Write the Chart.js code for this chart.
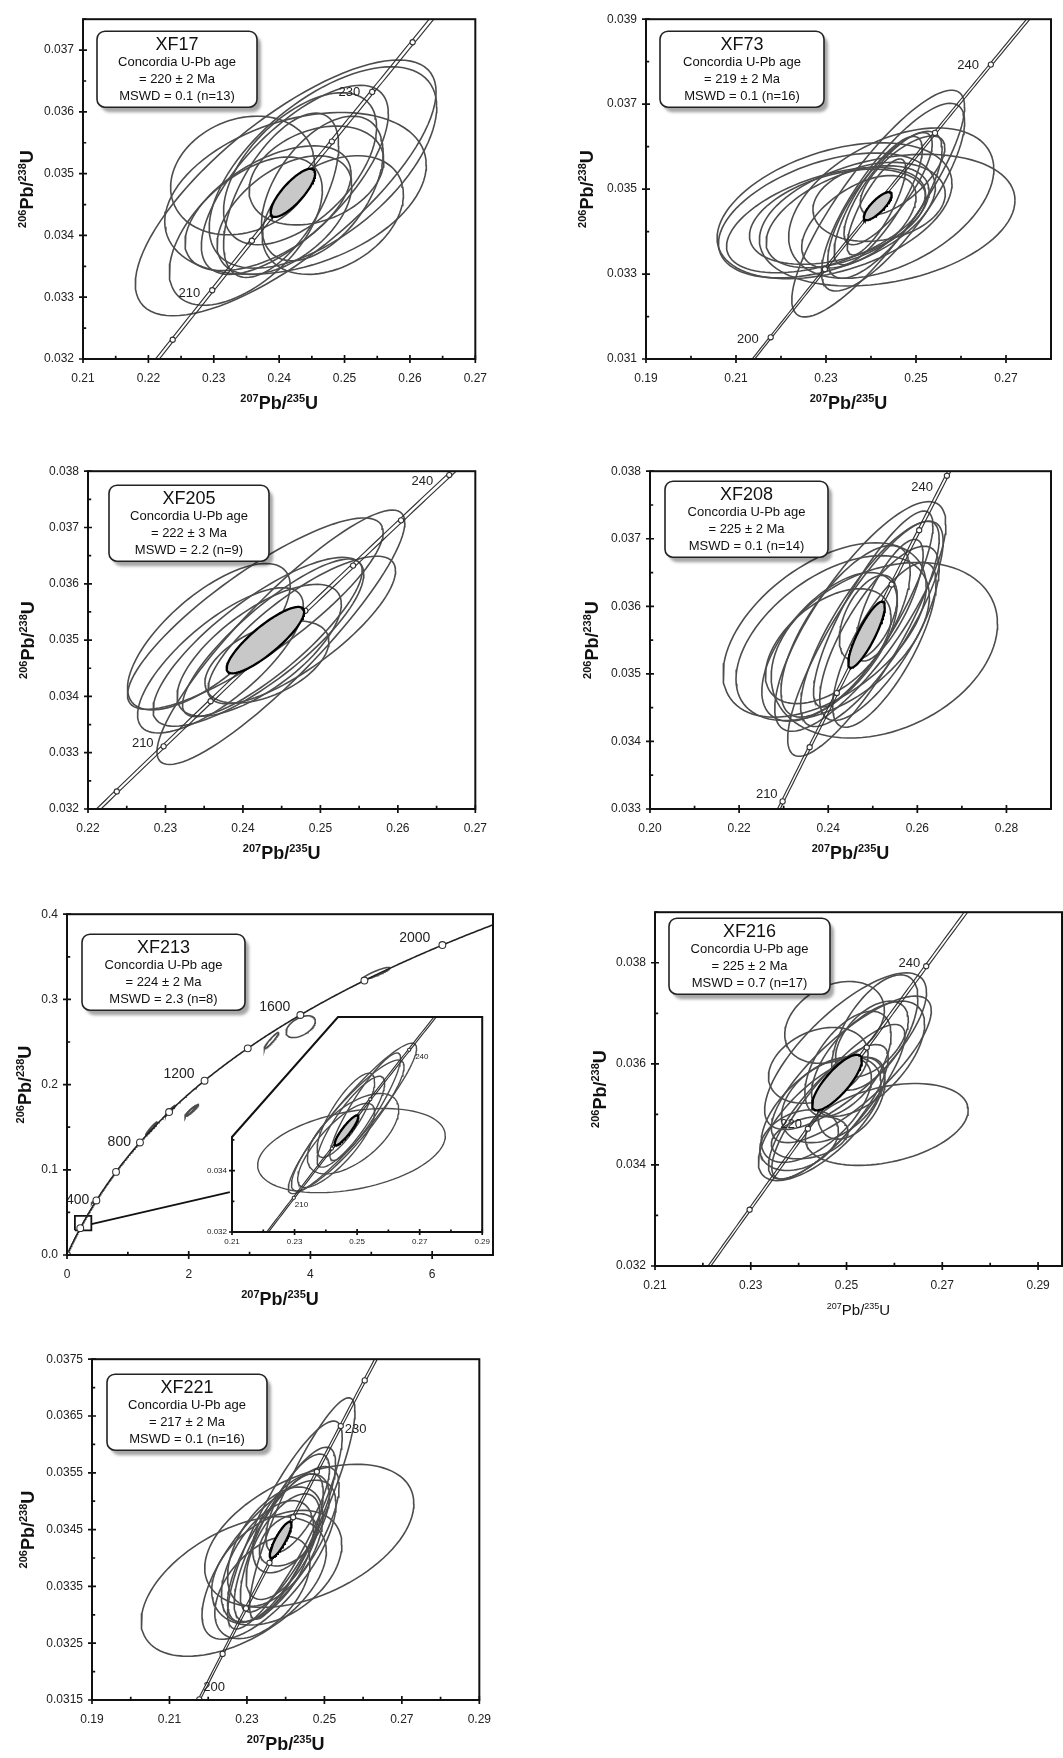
<!DOCTYPE html>
<html>
<head>
<meta charset="utf-8">
<script src="https://cdn.jsdelivr.net/npm/chart.js@4.4.1/dist/chart.umd.min.js"></script>
<style>
  html, body { margin: 0; padding: 0; background: #fff; }
  #page { position: relative; width: 1063px; height: 1758px; overflow: hidden; background: #fff; }
  #page canvas { position: absolute; }
</style>
</head>
<body>
<div id="page"></div>
<script>
// decay constants (1/yr) used for the concordia curve
const L238 = 1.55125e-10;
const L235 = 9.8485e-10;
const L235_BAND = 1.2e-12; // half-width of the concordia band

// ellipses: [207Pb/235U centre, 206Pb/238U centre, half-width x, half-height y, rho]

// ---- XF17
const XF17_TEXT = ['XF17', 'Concordia U-Pb age', '= 220 ± 2 Ma', 'MSWD = 0.1 (n=13)'];
const XF17_X_LABELS = [0.21, 0.22, 0.23, 0.24, 0.25, 0.26, 0.27];
const XF17_Y_LABELS = [0.032, 0.033, 0.034, 0.035, 0.036, 0.037];
const XF17_CURVE_AGES = [190, 250];
const XF17_MARKER_AGES = [205, 210, 215, 220, 225, 230, 235];
const XF17_LABEL_AGES = [210, 230];
const XF17_AGE_ELLIPSE = [0.2421, 0.03469, 0.0034, 0.00039, 0.80];
const XF17_ELLIPSES = [
  [0.2410, 0.03477, 0.0230, 0.00207, 0.75],
  [0.2425, 0.03468, 0.0200, 0.00131, 0.35],
  [0.2467, 0.03510, 0.0174, 0.00163, 0.60],
  [0.2424, 0.03490, 0.0143, 0.00153, 0.70],
  [0.2349, 0.03407, 0.0117, 0.00120, 0.55],
  [0.2344, 0.03497, 0.0110, 0.00096, 0.20],
  [0.2403, 0.03465, 0.0088, 0.00133, 0.60],
  [0.2466, 0.03476, 0.0093, 0.00117, 0.50],
  [0.2457, 0.03497, 0.0103, 0.00080, 0.30],
  [0.2408, 0.03433, 0.0103, 0.00096, 0.50],
  [0.2383, 0.03444, 0.0127, 0.00101, 0.55],
  [0.2432, 0.03508, 0.0117, 0.00123, 0.55],
  [0.2482, 0.03433, 0.0108, 0.00096, 0.35]
];

// ---- XF73
const XF73_TEXT = ['XF73', 'Concordia U-Pb age', '= 219 ± 2 Ma', 'MSWD = 0.1 (n=16)'];
const XF73_X_LABELS = [0.19, 0.21, 0.23, 0.25, 0.27];
const XF73_Y_LABELS = [0.031, 0.033, 0.035, 0.037, 0.039];
const XF73_CURVE_AGES = [190, 255];
const XF73_MARKER_AGES = [200, 210, 220, 230, 240];
const XF73_LABEL_AGES = [200, 240];
const XF73_AGE_ELLIPSE = [0.2415, 0.03460, 0.0031, 0.00033, 0.80];
const XF73_ELLIPSES = [
  [0.2319, 0.03449, 0.0261, 0.00160, 0.40],
  [0.2302, 0.03438, 0.0241, 0.00147, 0.45],
  [0.2300, 0.03427, 0.0221, 0.00124, 0.50],
  [0.2326, 0.03435, 0.0196, 0.00112, 0.40],
  [0.2436, 0.03427, 0.0284, 0.00155, 0.30],
  [0.2445, 0.03467, 0.0228, 0.00177, 0.45],
  [0.2416, 0.03466, 0.0192, 0.00267, 0.85],
  [0.2449, 0.03481, 0.0159, 0.00221, 0.80],
  [0.2418, 0.03470, 0.0147, 0.00093, 0.20],
  [0.2431, 0.03463, 0.0127, 0.00173, 0.75],
  [0.2416, 0.03473, 0.0098, 0.00151, 0.80],
  [0.2438, 0.03501, 0.0098, 0.00132, 0.80],
  [0.2373, 0.03423, 0.0127, 0.00109, 0.55],
  [0.2412, 0.03458, 0.0065, 0.00113, 0.80],
  [0.2348, 0.03435, 0.0181, 0.00120, 0.50],
  [0.2470, 0.03532, 0.0094, 0.00093, 0.70]
];

// ---- XF205
const XF205_TEXT = ['XF205', 'Concordia U-Pb age', '= 222 ± 3 Ma', 'MSWD = 2.2 (n=9)'];
const XF205_X_LABELS = [0.22, 0.23, 0.24, 0.25, 0.26, 0.27];
const XF205_Y_LABELS = [0.032, 0.033, 0.034, 0.035, 0.036, 0.037, 0.038];
const XF205_CURVE_AGES = [190, 250];
const XF205_MARKER_AGES = [205, 210, 215, 220, 225, 230, 235, 240];
const XF205_LABEL_AGES = [210, 240];
const XF205_AGE_ELLIPSE = [0.2429, 0.03500, 0.0050, 0.00059, 0.85];
const XF205_ELLIPSES = [
  [0.2416, 0.03547, 0.0165, 0.00170, 0.85],
  [0.2356, 0.03506, 0.0105, 0.00130, 0.70],
  [0.2371, 0.03464, 0.0107, 0.00129, 0.75],
  [0.2449, 0.03505, 0.0160, 0.00226, 0.90],
  [0.2420, 0.03497, 0.0136, 0.00150, 0.80],
  [0.2421, 0.03482, 0.0106, 0.00117, 0.70],
  [0.2476, 0.03518, 0.0121, 0.00131, 0.80],
  [0.2431, 0.03461, 0.0080, 0.00073, 0.50],
  [0.2438, 0.03504, 0.0116, 0.00140, 0.85]
];

// ---- XF208
const XF208_TEXT = ['XF208', 'Concordia U-Pb age', '= 225 ± 2 Ma', 'MSWD = 0.1 (n=14)'];
const XF208_X_LABELS = [0.20, 0.22, 0.24, 0.26, 0.28];
const XF208_Y_LABELS = [0.033, 0.034, 0.035, 0.036, 0.037, 0.038];
const XF208_CURVE_AGES = [195, 250];
const XF208_MARKER_AGES = [210, 215, 220, 225, 230, 235, 240];
const XF208_LABEL_AGES = [210, 240];
const XF208_AGE_ELLIPSE = [0.2486, 0.03558, 0.0041, 0.00049, 0.85];
const XF208_ELLIPSES = [
  [0.2526, 0.03535, 0.0254, 0.00130, 0.30],
  [0.2392, 0.03565, 0.0228, 0.00129, 0.50],
  [0.2410, 0.03553, 0.0217, 0.00122, 0.50],
  [0.2472, 0.03585, 0.0192, 0.00170, 0.80],
  [0.2479, 0.03552, 0.0170, 0.00174, 0.85],
  [0.2498, 0.03574, 0.0160, 0.00152, 0.80],
  [0.2403, 0.03540, 0.0152, 0.00110, 0.60],
  [0.2439, 0.03563, 0.0145, 0.00127, 0.70],
  [0.2515, 0.03560, 0.0134, 0.00129, 0.75],
  [0.2526, 0.03543, 0.0116, 0.00122, 0.75],
  [0.2490, 0.03583, 0.0065, 0.00063, 0.50],
  [0.2400, 0.03541, 0.0141, 0.00085, 0.50],
  [0.2537, 0.03609, 0.0076, 0.00090, 0.75],
  [0.2501, 0.03596, 0.0134, 0.00145, 0.85]
];

// ---- XF213 (full concordia + inset)
const XF213_TEXT = ['XF213', 'Concordia U-Pb age', '= 224 ± 2 Ma', 'MSWD = 2.3 (n=8)'];
const XF213_X_LABELS = [0, 2, 4, 6];
const XF213_Y_LABELS = [0, 0.1, 0.2, 0.3, 0.4];
const XF213_CURVE_AGES = [0, 2150];
const XF213_MARKER_AGES = [0, 200, 400, 600, 800, 1000, 1200, 1400, 1600, 1800, 2000];
const XF213_LABEL_AGES = [400, 800, 1200, 1600, 2000];
const XF213_ELLIPSES = [
  [5.08, 0.3305, 0.220, 0.0070, 0.90],
  [3.84, 0.2680, 0.240, 0.0128, 0.50],
  [3.36, 0.2517, 0.120, 0.0097, 0.95],
  [2.05, 0.1697, 0.110, 0.0070, 0.95],
  [2.03, 0.1690, 0.090, 0.0062, 0.95],
  [1.70, 0.1700, 0.080, 0.0058, 0.97],
  [1.39, 0.1487, 0.095, 0.0078, 0.97],
  [0.46, 0.0640, 0.060, 0.0035, 0.97]
];
const XF213_BOX_X = [0.13, 0.40];
const XF213_BOX_Y = [0.029, 0.046];
const XF213_CALLOUT_X = [0.40, 2.676];
const XF213_CALLOUT_Y = [0.0361, 0.0738];

const XF213_INSET_X_LABELS = [0.21, 0.23, 0.25, 0.27, 0.29];
const XF213_INSET_Y_LABELS = [0.032, 0.034];
const XF213_INSET_CURVE_AGES = [195, 250];
const XF213_INSET_MARKER_AGES = [210, 220, 230, 240];
const XF213_INSET_LABEL_AGES = [210, 240];
const XF213_INSET_AGE_ELLIPSE = [0.2466, 0.03531, 0.0038, 0.00049, 0.90];
const XF213_INSET_ELLIPSES = [
  [0.2482, 0.03465, 0.0300, 0.00137, 0.35],
  [0.2487, 0.03520, 0.0146, 0.00131, 0.60],
  [0.2485, 0.03570, 0.0205, 0.00245, 0.93],
  [0.2470, 0.03547, 0.0180, 0.00213, 0.90],
  [0.2480, 0.03559, 0.0108, 0.00148, 0.85],
  [0.2526, 0.03608, 0.0113, 0.00175, 0.90],
  [0.2433, 0.03482, 0.0123, 0.00137, 0.80],
  [0.2464, 0.03580, 0.0092, 0.00137, 0.80]
];

// ---- XF216
const XF216_TEXT = ['XF216', 'Concordia U-Pb age', '= 225 ± 2 Ma', 'MSWD = 0.7 (n=17)'];
const XF216_X_LABELS = [0.21, 0.23, 0.25, 0.27, 0.29];
const XF216_Y_LABELS = [0.032, 0.034, 0.036, 0.038];
const XF216_CURVE_AGES = [190, 255];
const XF216_MARKER_AGES = [210, 220, 230, 240];
const XF216_LABEL_AGES = [220, 240];
const XF216_AGE_ELLIPSE = [0.2480, 0.03563, 0.0052, 0.00055, 0.80];
const XF216_ELLIPSES = [
  [0.2584, 0.03480, 0.0170, 0.00081, 0.35],
  [0.2498, 0.03625, 0.0169, 0.00155, 0.75],
  [0.2510, 0.03589, 0.0167, 0.00145, 0.80],
  [0.2475, 0.03682, 0.0104, 0.00081, 0.30],
  [0.2441, 0.03597, 0.0104, 0.00075, 0.30],
  [0.2448, 0.03491, 0.0132, 0.00122, 0.70],
  [0.2401, 0.03449, 0.0082, 0.00060, 0.30],
  [0.2437, 0.03509, 0.0115, 0.00104, 0.60],
  [0.2483, 0.03525, 0.0139, 0.00153, 0.85],
  [0.2462, 0.03505, 0.0125, 0.00133, 0.80],
  [0.2545, 0.03610, 0.0118, 0.00114, 0.60],
  [0.2559, 0.03662, 0.0090, 0.00114, 0.60],
  [0.2553, 0.03649, 0.0076, 0.00075, 0.50],
  [0.2468, 0.03529, 0.0104, 0.00085, 0.40],
  [0.2510, 0.03532, 0.0070, 0.00081, 0.40],
  [0.2423, 0.03454, 0.0080, 0.00042, 0.30],
  [0.2503, 0.03600, 0.0090, 0.00104, 0.55]
];

// ---- XF221
const XF221_TEXT = ['XF221', 'Concordia U-Pb age', '= 217 ± 2 Ma', 'MSWD = 0.1 (n=16)'];
const XF221_X_LABELS = [0.19, 0.21, 0.23, 0.25, 0.27, 0.29];
const XF221_Y_LABELS = [0.0315, 0.0325, 0.0335, 0.0345, 0.0355, 0.0365, 0.0375];
const XF221_CURVE_AGES = [190, 250];
const XF221_MARKER_AGES = [200, 205, 210, 215, 220, 225, 230, 235];
const XF221_LABEL_AGES = [200, 230];
const XF221_AGE_ELLIPSE = [0.2387, 0.03432, 0.0028, 0.00032, 0.85];
const XF221_ELLIPSES = [
  [0.2461, 0.03439, 0.0270, 0.00126, 0.45],
  [0.2266, 0.03350, 0.0239, 0.00123, 0.50],
  [0.2443, 0.03487, 0.0136, 0.00195, 0.88],
  [0.2398, 0.03458, 0.0148, 0.00183, 0.85],
  [0.2357, 0.03397, 0.0173, 0.00140, 0.70],
  [0.2377, 0.03383, 0.0168, 0.00101, 0.40],
  [0.2394, 0.03424, 0.0144, 0.00137, 0.75],
  [0.2382, 0.03418, 0.0115, 0.00130, 0.75],
  [0.2406, 0.03450, 0.0123, 0.00145, 0.80],
  [0.2353, 0.03394, 0.0119, 0.00107, 0.55],
  [0.2373, 0.03420, 0.0123, 0.00105, 0.50],
  [0.2393, 0.03420, 0.0095, 0.00093, 0.60],
  [0.2406, 0.03432, 0.0074, 0.00046, 0.40],
  [0.2340, 0.03348, 0.0123, 0.00090, 0.50],
  [0.2414, 0.03461, 0.0099, 0.00087, 0.55],
  [0.2431, 0.03496, 0.0082, 0.00087, 0.70]
];

const FONT = "'Liberation Sans', Arial, Helvetica, sans-serif";
Chart.defaults.font.family = FONT;
Chart.defaults.color = '#222';
const PAGE = document.getElementById('page');

function ratios(age, l235) {
  return { x: Math.expm1(l235 * age * 1e6), y: Math.expm1(L238 * age * 1e6) };
}

function curvePoints(range, step, l235) {
  const pts = [];
  for (let a = range[0]; a <= range[1] + 1e-9; a += step) pts.push(ratios(a, l235));
  return pts;
}

function ellipsePoints(e) {
  const [cx, cy, sx, sy, rho] = e;
  const k = Math.sqrt(1 - rho * rho);
  const pts = [];
  for (let i = 0; i <= 96; i++) {
    const t = i / 96 * 2 * Math.PI;
    pts.push({ x: cx + sx * Math.cos(t), y: cy + sy * (rho * Math.cos(t) + k * Math.sin(t)) });
  }
  return pts;
}

function axisTicks(min, max, step) {
  const n = Math.floor((max - min) / step + 1e-6);
  const out = [];
  for (let i = 0; i <= n; i++) out.push(+(min + i * step).toFixed(8));
  return out;
}

const isLabeled = (v, labels) => labels.some(l => Math.abs(l - v) < 1e-9);

function roundRect(c, x, y, w, h, r) {
  c.beginPath();
  c.moveTo(x + r, y);
  c.arcTo(x + w, y, x + w, y + h, r);
  c.arcTo(x + w, y + h, x, y + h, r);
  c.arcTo(x, y + h, x, y, r);
  c.arcTo(x, y, x + w, y, r);
  c.closePath();
}

function insetPath(c, a, cut) {
  c.beginPath();
  c.moveTo(a.left, a.bottom);
  c.lineTo(a.left, a.bottom - cut[0]);
  c.lineTo(a.left + cut[1], a.top);
  c.lineTo(a.right, a.top);
  c.lineTo(a.right, a.bottom);
  c.closePath();
}

function drawRatio(c, x, y, sup1, sup2, size, bold, rotate) {
  const w = bold ? 'bold ' : '';
  const big = w + size + 'px ' + FONT;
  const small = w + Math.round(size * 0.62) + 'px ' + FONT;
  const parts = [[sup1, small, true], ['Pb/', big, false], [sup2, small, true], ['U', big, false]];
  c.save();
  c.translate(x, y);
  if (rotate) c.rotate(-Math.PI / 2);
  let total = 0;
  parts.forEach(p => { c.font = p[1]; total += c.measureText(p[0]).width; });
  let px = -total / 2;
  c.fillStyle = '#111';
  c.textAlign = 'left';
  c.textBaseline = 'alphabetic';
  parts.forEach(p => {
    c.font = p[1];
    c.fillText(p[0], px, p[2] ? -size * 0.07 : size * 0.35);
    px += c.measureText(p[0]).width;
  });
  c.restore();
}

function decor(p) {
  return {
    id: 'decor',
    beforeDraw(chart) {
      if (!p.cut) return;
      const c = chart.ctx;
      c.save();
      c.fillStyle = '#fff';
      insetPath(c, chart.chartArea, p.cut);
      c.fill();
      c.restore();
    },
    afterDatasetsDraw(chart) {
      const c = chart.ctx, xs = chart.scales.x, ys = chart.scales.y;
      c.save();
      c.fillStyle = '#222';
      c.font = p.labelFont + 'px ' + FONT;
      c.textBaseline = 'middle';
      p.labelAges.forEach((age, i) => {
        const r = ratios(age, L235);
        const [dx, dy, align] = p.labelPos[i];
        c.textAlign = align;
        c.fillText(String(age), xs.getPixelForValue(r.x) + dx, ys.getPixelForValue(r.y) + dy);
      });
      c.restore();
    },
    afterDraw(chart) {
      const c = chart.ctx, a = chart.chartArea, xs = chart.scales.x, ys = chart.scales.y;
      c.save();
      c.strokeStyle = '#111';
      c.lineWidth = p.frameWidth;
      if (p.cut) { insetPath(c, a, p.cut); c.stroke(); }
      else c.strokeRect(a.left, a.top, a.right - a.left, a.bottom - a.top);

      // tick marks: major ones cross the axis, minor ones point inward
      c.lineWidth = p.frameWidth * 0.85;
      c.beginPath();
      xs.ticks.forEach(t => {
        const px = xs.getPixelForValue(t.value);
        if (isLabeled(t.value, p.xLabels)) { c.moveTo(px, a.bottom + p.tick); c.lineTo(px, a.bottom - p.tick); }
        else { c.moveTo(px, a.bottom); c.lineTo(px, a.bottom - p.tick * 0.8); }
      });
      ys.ticks.forEach(t => {
        const py = ys.getPixelForValue(t.value);
        if (p.cut && py < a.bottom - p.cut[0] + 2) return;
        if (isLabeled(t.value, p.yLabels)) { c.moveTo(a.left - p.tick, py); c.lineTo(a.left + p.tick, py); }
        else { c.moveTo(a.left, py); c.lineTo(a.left + p.tick * 0.8, py); }
      });
      c.stroke();

      // axis titles
      if (p.xTitle) {
        drawRatio(c, (a.left + a.right) / 2, a.bottom + 44, '207', '235', p.xTitle.size, p.xTitle.bold, false);
        drawRatio(c, a.left - p.yTitleOff, (a.top + a.bottom) / 2, '206', '238', 18, true, true);
      }

      // sample text box with shadow
      if (p.text) {
        const [bx, by, bw, bh] = p.box;
        const x = a.left + bx, y = a.top + by;
        c.save();
        c.shadowColor = 'rgba(0,0,0,0.35)';
        c.shadowBlur = 3;
        c.shadowOffsetX = 4;
        c.shadowOffsetY = 5;
        c.fillStyle = '#fff';
        roundRect(c, x, y, bw, bh, 8);
        c.fill();
        c.restore();
        c.strokeStyle = '#222';
        c.lineWidth = 1.6;
        roundRect(c, x, y, bw, bh, 8);
        c.stroke();
        c.fillStyle = '#111';
        c.textAlign = 'center';
        c.textBaseline = 'middle';
        c.font = '18px ' + FONT;
        c.fillText(p.text[0], x + bw / 2, y + 14);
        c.font = '13px ' + FONT;
        c.fillText(p.text[1], x + bw / 2, y + 31);
        c.fillText(p.text[2], x + bw / 2, y + 48);
        c.fillText(p.text[3], x + bw / 2, y + 65);
      }
      c.restore();
    }
  };
}

function axis(min, max, step, labels, dec, font, pad, size, horizontal) {
  return {
    type: 'linear',
    min, max,
    grid: { display: false, drawTicks: false },
    border: { display: false },
    ticks: {
      autoSkip: false, maxRotation: 0, minRotation: 0, padding: pad,
      font: { size: font }, color: '#222',
      callback: v => isLabeled(v, labels) ? v.toFixed(dec) : ''
    },
    afterBuildTicks: s => { s.ticks = axisTicks(min, max, step).map(v => ({ value: v })); },
    afterFit: s => { if (horizontal) s.height = size; else s.width = size; }
  };
}

function buildPanel(p) {
  const [cl, ct, cr, cb] = p.canvas;
  const [L, T, R, B] = p.plot;
  const cv = document.createElement('canvas');
  cv.width = cr - cl;
  cv.height = cb - ct;
  Object.assign(cv.style, { left: cl + 'px', top: ct + 'px', width: (cr - cl) + 'px', height: (cb - ct) + 'px' });
  PAGE.appendChild(cv);

  const datasets = [];
  if (p.age) {
    datasets.push({ data: ellipsePoints(p.age), showLine: true, borderColor: '#000', borderWidth: 2.3,
      backgroundColor: '#c8c8c8', fill: 'shape', pointRadius: 0, order: 0 });
  }
  datasets.push({ data: p.markers.map(a => ratios(a, L235)), showLine: false, pointRadius: p.markerR,
    pointBackgroundColor: '#fff', pointBorderColor: '#333', pointBorderWidth: 1.1, order: 1 });
  const bands = p.singleCurve ? [L235] : [L235 - L235_BAND, L235 + L235_BAND];
  bands.forEach(l => datasets.push({ data: curvePoints(p.curve, p.curveStep, l), showLine: true,
    borderColor: p.singleCurve ? '#222' : '#333', borderWidth: p.singleCurve ? 1.6 : 1.15, pointRadius: 0, fill: false, order: 2 }));
  p.ellipses.forEach(e => datasets.push({ data: ellipsePoints(e), showLine: true, borderColor: '#4d4d4d',
    borderWidth: p.ellipseW, pointRadius: 0, fill: false, order: 3 }));
  (p.extra || []).forEach(d => datasets.push(Object.assign({ showLine: true, borderColor: '#111', borderWidth: 1.8,
    pointRadius: 0, fill: false, order: 2 }, d)));

  new Chart(cv, {
    type: 'scatter',
    data: { datasets },
    options: {
      responsive: false, animation: false, devicePixelRatio: 1, events: [],
      layout: { autoPadding: false, padding: { top: T - ct, right: cr - R, left: 0, bottom: 0 } },
      plugins: { legend: { display: false }, tooltip: { enabled: false } },
      scales: {
        x: axis(p.xMin, p.xMax, p.xStep, p.xLabels, p.xDec, p.tickFont, p.xPad, cb - B, true),
        y: axis(p.yMin, p.yMax, p.yStep, p.yLabels, p.yDec, p.tickFont, p.yPad, L - cl, false)
      }
    },
    plugins: [decor(p)]
  });
}

const COMMON = { tickFont: 12, xPad: 12, yPad: 9, tick: 4, frameWidth: 2, markerR: 2.6, curveStep: 0.5,
  ellipseW: 1.6, labelFont: 13, xTitle: { size: 18, bold: true } };

const PANELS = [
  Object.assign({}, COMMON, {
    plot: [83, 15, 493, 359], canvas: [0, 3, 499, 417],
    xMin: 0.21, xMax: 0.27, xStep: 0.005, xLabels: XF17_X_LABELS, xDec: 2,
    yMin: 0.032, yMax: 0.0375, yStep: 0.0005, yLabels: XF17_Y_LABELS, yDec: 3,
    ellipses: XF17_ELLIPSES, age: XF17_AGE_ELLIPSE, curve: XF17_CURVE_AGES, markers: XF17_MARKER_AGES,
    labelAges: XF17_LABEL_AGES, labelPos: [[-12, 3, 'right'], [-12, 0, 'right']],
    text: XF17_TEXT, box: [14, 12, 160, 76], yTitleOff: 56
  }),
  Object.assign({}, COMMON, {
    plot: [646, 15, 1061, 359], canvas: [560, 3, 1063, 417],
    xMin: 0.19, xMax: 0.28, xStep: 0.01, xLabels: XF73_X_LABELS, xDec: 2,
    yMin: 0.031, yMax: 0.039, yStep: 0.001, yLabels: XF73_Y_LABELS, yDec: 3,
    ellipses: XF73_ELLIPSES, age: XF73_AGE_ELLIPSE, curve: XF73_CURVE_AGES, markers: XF73_MARKER_AGES,
    labelAges: XF73_LABEL_AGES, labelPos: [[-12, 2, 'right'], [-12, 1, 'right']],
    text: XF73_TEXT, box: [14, 12, 164, 76], yTitleOff: 59
  }),
  Object.assign({}, COMMON, {
    plot: [88, 469, 493, 809], canvas: [0, 455, 499, 867],
    xMin: 0.22, xMax: 0.27, xStep: 0.005, xLabels: XF205_X_LABELS, xDec: 2,
    yMin: 0.032, yMax: 0.038, yStep: 0.0005, yLabels: XF205_Y_LABELS, yDec: 3,
    ellipses: XF205_ELLIPSES, age: XF205_AGE_ELLIPSE, curve: XF205_CURVE_AGES, markers: XF205_MARKER_AGES,
    labelAges: XF205_LABEL_AGES, labelPos: [[-10, -3, 'right'], [-16, 6, 'right']],
    text: XF205_TEXT, box: [21, 14, 160, 76], yTitleOff: 60
  }),
  Object.assign({}, COMMON, {
    plot: [650, 467, 1062, 809], canvas: [560, 455, 1063, 867],
    xMin: 0.20, xMax: 0.29, xStep: 0.01, xLabels: XF208_X_LABELS, xDec: 2,
    yMin: 0.033, yMax: 0.038, yStep: 0.0005, yLabels: XF208_Y_LABELS, yDec: 3,
    ellipses: XF208_ELLIPSES, age: XF208_AGE_ELLIPSE, curve: XF208_CURVE_AGES, markers: XF208_MARKER_AGES,
    labelAges: XF208_LABEL_AGES, labelPos: [[-5, -7, 'right'], [-14, 12, 'right']],
    text: XF208_TEXT, box: [15, 10, 163, 76], yTitleOff: 58
  }),
  Object.assign({}, COMMON, {
    plot: [67, 912, 499, 1255], canvas: [0, 898, 505, 1313],
    xMin: 0, xMax: 7, xStep: 1, xLabels: XF213_X_LABELS, xDec: 0,
    yMin: 0, yMax: 0.4, yStep: 0.05, yLabels: XF213_Y_LABELS, yDec: 1,
    ellipses: XF213_ELLIPSES, age: null, curve: XF213_CURVE_AGES, curveStep: 5, singleCurve: true,
    markers: XF213_MARKER_AGES, markerR: 3.4, labelFont: 14,
    labelAges: XF213_LABEL_AGES,
    labelPos: [[-7, 0, 'right'], [-9, 0, 'right'], [-10, -7, 'right'], [-10, -8, 'right'], [-12, -7, 'right']],
    extra: [
      { data: [
          { x: XF213_BOX_X[0], y: XF213_BOX_Y[0] }, { x: XF213_BOX_X[1], y: XF213_BOX_Y[0] },
          { x: XF213_BOX_X[1], y: XF213_BOX_Y[1] }, { x: XF213_BOX_X[0], y: XF213_BOX_Y[1] },
          { x: XF213_BOX_X[0], y: XF213_BOX_Y[0] }] },
      { data: [{ x: XF213_CALLOUT_X[0], y: XF213_CALLOUT_Y[0] }, { x: XF213_CALLOUT_X[1], y: XF213_CALLOUT_Y[1] }] }
    ],
    text: XF213_TEXT, box: [15, 20, 163, 76], yTitleOff: 42
  }),
  Object.assign({}, COMMON, {
    plot: [232, 1017, 491, 1232], canvas: [192, 1005, 495, 1250],
    tickFont: 8, xPad: 5, yPad: 5, tick: 3, frameWidth: 2, markerR: 1.6,
    xMin: 0.21, xMax: 0.29, xStep: 0.01, xLabels: XF213_INSET_X_LABELS, xDec: 2,
    yMin: 0.032, yMax: 0.039, yStep: 0.001, yLabels: XF213_INSET_Y_LABELS, yDec: 3,
    ellipses: XF213_INSET_ELLIPSES, age: XF213_INSET_AGE_ELLIPSE, curve: XF213_INSET_CURVE_AGES,
    markers: XF213_INSET_MARKER_AGES, ellipseW: 1.4, labelFont: 8,
    labelAges: XF213_INSET_LABEL_AGES, labelPos: [[1, 7, 'left'], [6, 7, 'left']],
    cut: [95, 106], xTitle: null, text: null
  }),
  Object.assign({}, COMMON, {
    plot: [655, 908, 1062, 1266], canvas: [560, 896, 1063, 1324],
    xMin: 0.21, xMax: 0.295, xStep: 0.01, xLabels: XF216_X_LABELS, xDec: 2,
    yMin: 0.032, yMax: 0.039, yStep: 0.001, yLabels: XF216_Y_LABELS, yDec: 3,
    ellipses: XF216_ELLIPSES, age: XF216_AGE_ELLIPSE, curve: XF216_CURVE_AGES, markers: XF216_MARKER_AGES,
    labelAges: XF216_LABEL_AGES, labelPos: [[-6, -4, 'right'], [-6, -3, 'right']],
    text: XF216_TEXT, box: [14, 6, 161, 76], yTitleOff: 55, xTitle: { size: 15, bold: false }
  }),
  Object.assign({}, COMMON, {
    plot: [92, 1355, 497, 1700], canvas: [0, 1343, 503, 1758],
    xMin: 0.19, xMax: 0.29, xStep: 0.01, xLabels: XF221_X_LABELS, xDec: 2,
    yMin: 0.0315, yMax: 0.0375, yStep: 0.0005, yLabels: XF221_Y_LABELS, yDec: 4,
    ellipses: XF221_ELLIPSES, age: XF221_AGE_ELLIPSE, curve: XF221_CURVE_AGES, markers: XF221_MARKER_AGES,
    labelAges: XF221_LABEL_AGES, labelPos: [[4, -12, 'left'], [4, 3, 'left']],
    text: XF221_TEXT, box: [15, 15, 160, 76], yTitleOff: 64
  })
];

PANELS.forEach(buildPanel);
</script>
</body>
</html>
